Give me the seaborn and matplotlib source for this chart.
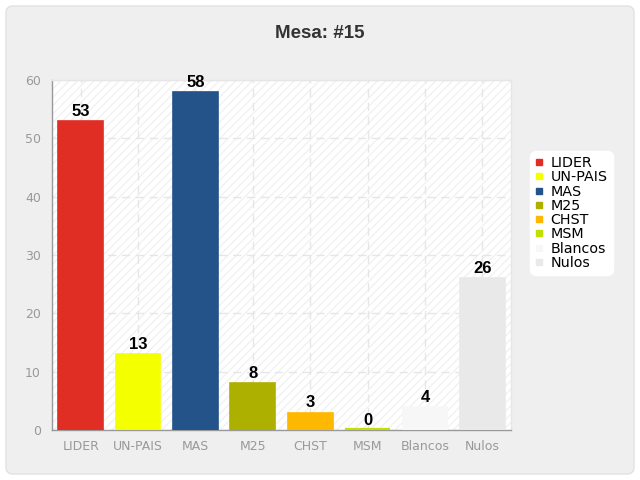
import matplotlib
matplotlib.use("Agg")
import matplotlib.pyplot as plt
import seaborn as sns
import pandas as pd
from matplotlib.patches import FancyBboxPatch
from matplotlib.lines import Line2D

categories = ["LIDER", "UN-PAIS", "MAS", "M25", "CHST", "MSM", "Blancos", "Nulos"]
values = [53, 13, 58, 8, 3, 0, 4, 26]
colors = ["#e02e24", "#f4ff00", "#245389", "#aeb000", "#ffb800", "#c2e000", "#f7f7f7", "#e9e9e9"]
title = "Mesa: #15"
yticks = [0, 10, 20, 30, 40, 50, 60]

sns.set_style("white")
plt.rcParams['font.family'] = ['DejaVu Sans']

df = pd.DataFrame({"cat": categories, "val": values})

fig = plt.figure(figsize=(6.4, 4.8), dpi=100)
fig.patch.set_facecolor("white")

bg = fig.add_axes([0, 0, 1, 1], zorder=-10)
bg.set_axis_off()
bg.set_xlim(0, 640)
bg.set_ylim(0, 480)
bg.add_patch(FancyBboxPatch((6, 6), 628, 468,
                            boxstyle="round,pad=0,rounding_size=7",
                            facecolor="#efefef", edgecolor="#e2e2e2", linewidth=1))

ax = fig.add_axes([52/640, 50/480, 459/640, 350/480], zorder=2)
ax.set_facecolor("white")
ax.patch.set_hatch("////")
ax.patch.set_edgecolor("#f1f1f1")
ax.patch.set_linewidth(0)

sns.barplot(data=df, x="cat", y="val", hue="cat", palette=colors,
            order=categories, hue_order=categories, legend=False,
            width=0.78, ax=ax, zorder=3, saturation=1)
for p, c, v in zip(ax.patches, colors, values):
    p.set_edgecolor(c)
    p.set_linewidth(3.0 if v == 0 else 1.2)

for cont in ax.containers:
    ax.bar_label(cont, fontsize=12, fontweight="bold", family="Liberation Sans",
                 padding=1.5, color="black", zorder=5)

ax.set_ylim(0, 60)
ax.set_xlim(-0.5, len(categories) - 0.5)
ax.set_yticks(yticks)
ax.set_xlabel("")
ax.set_ylabel("")
ax.grid(True, axis="both", color="#e6e6e6", linestyle=(0, (6, 4)), linewidth=1, zorder=1)
ax.set_axisbelow(True)

for s in ["top", "right"]:
    ax.spines[s].set_color("#e6e6e6")
    ax.spines[s].set_linewidth(1)
for s in ["left", "bottom"]:
    ax.spines[s].set_color("#999999")
    ax.spines[s].set_linewidth(1)

ax.tick_params(axis="both", colors="#999999", labelcolor="#999999", labelsize=9,
               length=5, width=1, direction="out")
ax.tick_params(axis="x", pad=2)
ax.tick_params(axis="y", pad=3)

fig.text(0.5, 1 - 34/480, title, ha="center", va="center", fontsize=13.5,
         fontweight="bold", color="#333333", family="Liberation Sans")

handles = [Line2D([0], [0], marker="s", linestyle="none", markersize=5,
                  markerfacecolor=c, markeredgecolor=c) for c in colors]
leg = fig.legend(handles, categories, loc="center left",
                 bbox_to_anchor=(530/640, 1 - 213/480), frameon=True,
                 fontsize=10.3, handlelength=0.6, handletextpad=0.5,
                 labelspacing=0.02, borderpad=0.35, fancybox=True,
                 facecolor="white", edgecolor="white", framealpha=1,
                 labelcolor="black", borderaxespad=0)
leg.get_frame().set_boxstyle("round,pad=0,rounding_size=0.4")
leg.set_zorder(5)

fig.savefig("out.png", dpi=100)
